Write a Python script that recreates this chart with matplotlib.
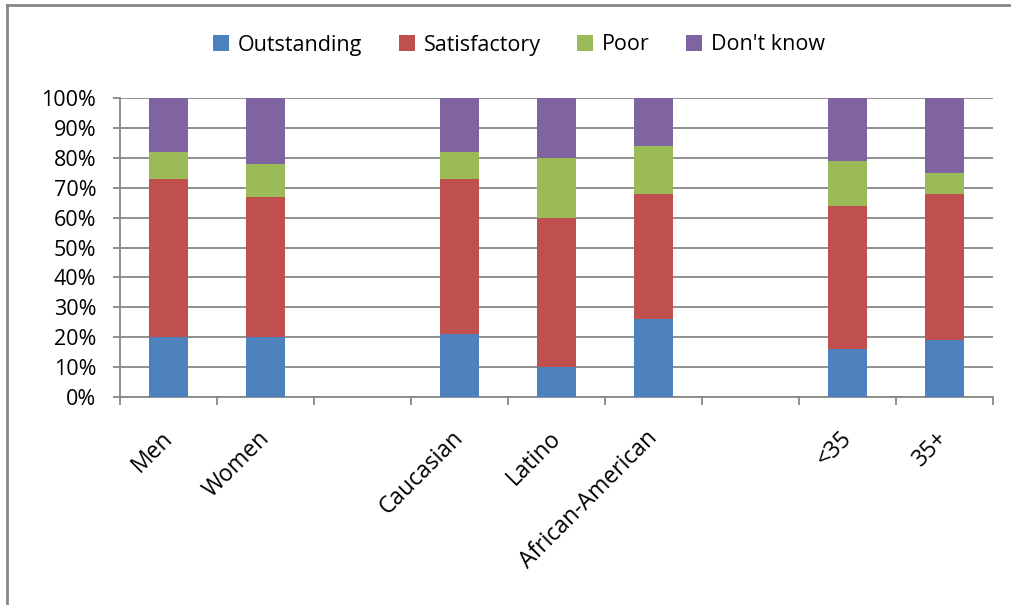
import numpy as np
import matplotlib.pyplot as plt
from matplotlib.lines import Line2D
from matplotlib.ticker import FixedLocator, PercentFormatter
from matplotlib.transforms import ScaledTranslation

# Groups, with empty slots separating gender / ethnicity / age
categories = ['Men', 'Women', '', 'Caucasian', 'Latino', 'African-American', '', '<35', '35+']

outstanding  = [20, 20, 0, 21, 10, 26, 0, 16, 19]
satisfactory = [53, 47, 0, 52, 50, 42, 0, 48, 49]
poor         = [9, 11, 0, 9, 20, 16, 0, 15, 7]
dont_know    = [18, 22, 0, 18, 20, 16, 0, 21, 25]

series = [
    ('Outstanding', outstanding, '#4F81BD'),
    ('Satisfactory', satisfactory, '#C0504D'),
    ('Poor', poor, '#9BBB59'),
    ("Don't know", dont_know, '#8064A2'),
]

grid_col = '#878787'
plt.rcParams['font.family'] = ['Open Sans', 'DejaVu Sans']

fig = plt.figure(figsize=(10.12, 6.05), dpi=100)
ax = fig.add_axes([120 / 1012, 1 - 397 / 605, 873 / 1012, 299 / 605])

x = np.arange(len(categories))
bottom = np.zeros(len(categories))
handles = []
for name, vals, col in series:
    vals = np.array(vals, dtype=float)
    b = ax.bar(x, vals, 0.4, bottom=bottom, color=col, label=name, linewidth=0, zorder=3)
    handles.append(b)
    bottom += vals

ax.set_xlim(-0.5, len(categories) - 0.5)
ax.set_ylim(0, 100)
ax.yaxis.set_major_locator(FixedLocator(np.arange(0, 101, 10)))
ax.yaxis.set_major_formatter(PercentFormatter(decimals=0))
ax.grid(axis='y', color=grid_col, linewidth=1.3, zorder=0)

ax.set_xticks(x)
ax.set_xticklabels(categories, rotation=45, ha='right', va='top')
ax.set_xticks(np.arange(-0.5, len(categories), 1), minor=True)
ax.tick_params(axis='x', which='major', length=0, pad=21, labelsize=16.5)
ax.tick_params(axis='x', which='minor', length=6, width=1.3, color=grid_col, direction='out')
ax.tick_params(axis='y', length=5, width=1.3, color=grid_col, direction='out', labelsize=15.5, pad=12)

for s in ['top', 'right']:
    ax.spines[s].set_visible(False)
for s in ['left', 'bottom']:
    ax.spines[s].set_color(grid_col)
    ax.spines[s].set_linewidth(1.3)

# nudge the rotated labels so their upper end sits just right of the bar centre
offset = ScaledTranslation(9 / 100, 0, fig.dpi_scale_trans)
for lbl in ax.get_xticklabels():
    lbl.set_transform(lbl.get_transform() + offset)

fig.legend(handles=handles, loc='center', bbox_to_anchor=(519 / 1012, 1 - 45 / 605),
           ncol=4, frameon=False, handlelength=0.75, handleheight=0.75,
           handletextpad=0.4, columnspacing=1.7,
           prop={'family': ['Liberation Sans Narrow', 'Open Sans'], 'size': 15.5})

# chart border (top and left edges)
fig.add_artist(Line2D([7 / 1012, 7 / 1012], [0, 1 - 5 / 605], color=grid_col, linewidth=2))
fig.add_artist(Line2D([7 / 1012, 1], [1 - 5 / 605, 1 - 5 / 605], color=grid_col, linewidth=2))

fig.savefig('out.png', dpi=100)
